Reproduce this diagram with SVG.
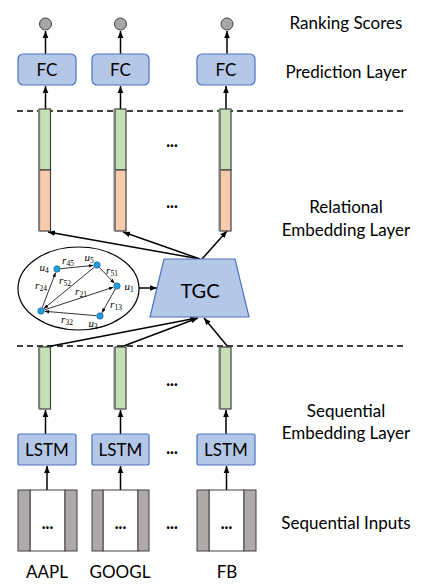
<svg xmlns="http://www.w3.org/2000/svg" width="437" height="587" viewBox="0 0 437 587">
<style>
.lbl{font-family:Lato,"Liberation Sans",sans-serif;font-size:17px;fill:#000;text-anchor:middle}
.box{fill:#B4C7E7;stroke:#4A72C4;stroke-width:1.2}
.bt{font-family:Lato,"Liberation Sans",sans-serif;font-size:17px;fill:#000;text-anchor:middle}
.dots{font-family:Lato,"Liberation Sans",sans-serif;font-size:16px;font-weight:900;fill:#000;text-anchor:middle}
.score{fill:#A6A6A6;stroke:#404040;stroke-width:1}
.grn{fill:#C5E0B4;stroke:#404040;stroke-width:1.2}
.org{fill:#F8CBAD;stroke:#404040;stroke-width:1.2}
.shd{stroke:#7F7F7F;stroke-width:2}
.ar{stroke:#000;stroke-width:1.5;fill:none;marker-end:url(#ah)}
.ge{stroke:#000;stroke-width:0.8;fill:none;marker-end:url(#sh)}
.dash{stroke:#000;stroke-width:1.3;stroke-dasharray:6,4;fill:none}
.gray{fill:#AEAAAA;stroke:#404040;stroke-width:1}
.wht{fill:#fff;stroke:#404040;stroke-width:1}
.node{fill:#1E9FE0;stroke:#1F4E79;stroke-width:0.6}
.m{font-family:"Liberation Serif",serif;font-style:italic;font-size:11px;fill:#000;text-anchor:middle}
.sub{font-size:7.5px;font-style:normal}
</style>
<defs>
<marker id="ah" viewBox="0 0 10 10" refX="10" refY="5" markerWidth="7" markerHeight="7" markerUnits="userSpaceOnUse" orient="auto"><path d="M0,1 L10,5 L0,9 z" fill="#000"/></marker>
<marker id="sh" viewBox="0 0 10 10" refX="10" refY="5" markerWidth="4.5" markerHeight="4.5" markerUnits="userSpaceOnUse" orient="auto"><path d="M0,1 L10,5 L0,9 z" fill="#000"/></marker>
</defs>
<rect width="437" height="587" fill="#fff"/>

<g id="layer-labels">
<text class="lbl" x="346" y="29">Ranking Scores</text>
<text class="lbl" x="346" y="78">Prediction Layer</text>
<text class="lbl" x="346" y="213">Relational</text>
<text class="lbl" x="346" y="236">Embedding Layer</text>
<text class="lbl" x="346" y="417">Sequential</text>
<text class="lbl" x="346" y="439">Embedding Layer</text>
<text class="lbl" x="346" y="529">Sequential Inputs</text>
</g>

<g id="separators">
<line class="dash" x1="17" y1="111" x2="405" y2="111"/>
<line class="dash" x1="17" y1="346" x2="405" y2="346"/>
</g>

<g id="connectors">
<line class="ar" x1="45.5" y1="54" x2="45.5" y2="31"/>
<line class="ar" x1="120.5" y1="54" x2="120.5" y2="31"/>
<line class="ar" x1="227" y1="54" x2="227" y2="31"/>
<line class="ar" x1="45.5" y1="109" x2="45.5" y2="86"/>
<line class="ar" x1="120.5" y1="109" x2="120.5" y2="86"/>
<line class="ar" x1="226" y1="109" x2="226" y2="86"/>
<line class="ar" x1="200" y1="259" x2="48" y2="232"/>
<line class="ar" x1="200" y1="259" x2="123" y2="232"/>
<line class="ar" x1="202" y1="259" x2="227" y2="231"/>
<line class="ar" x1="139" y1="288" x2="157" y2="288"/>
<line class="ar" x1="46" y1="347" x2="197" y2="318"/>
<line class="ar" x1="121" y1="347" x2="198" y2="318"/>
<line class="ar" x1="228" y1="347" x2="204" y2="318"/>
<line class="ar" x1="45.5" y1="434" x2="45.5" y2="410"/>
<line class="ar" x1="120.5" y1="434" x2="120.5" y2="410"/>
<line class="ar" x1="226" y1="434" x2="226" y2="410"/>
<line class="ar" x1="47" y1="490" x2="47" y2="466"/>
<line class="ar" x1="120.5" y1="490" x2="120.5" y2="466"/>
<line class="ar" x1="226.5" y1="490" x2="226.5" y2="466"/>
</g>

<g id="score-1"><circle class="score" cx="45.5" cy="24" r="6"/></g>
<g id="score-2"><circle class="score" cx="120.5" cy="24" r="6"/></g>
<g id="score-3"><circle class="score" cx="227" cy="24" r="6"/></g>

<g id="fc-1"><rect class="box" x="18" y="54" width="58" height="31" rx="5"/><text class="bt" x="47" y="76">FC</text></g>
<g id="fc-2"><rect class="box" x="92" y="54" width="57" height="31" rx="5"/><text class="bt" x="120.5" y="76">FC</text></g>
<g id="fc-3"><rect class="box" x="197" y="54" width="58" height="31" rx="5"/><text class="bt" x="226" y="76">FC</text></g>

<g id="rel-bar-1"><rect class="grn" x="39.5" y="109" width="11" height="61"/><rect class="org" x="39.5" y="170" width="11" height="61"/><line class="shd" x1="39" y1="109" x2="39" y2="231"/></g>
<g id="rel-bar-2"><rect class="grn" x="115" y="109" width="11" height="61"/><rect class="org" x="115" y="170" width="11" height="61"/><line class="shd" x1="114.5" y1="109" x2="114.5" y2="231"/></g>
<g id="rel-bar-3"><rect class="grn" x="220" y="109" width="11" height="61"/><rect class="org" x="220" y="170" width="11" height="61"/><line class="shd" x1="219.5" y1="109" x2="219.5" y2="231"/></g>
<text class="dots" x="172" y="147">...</text>
<text class="dots" x="172" y="208">...</text>

<g id="relation-graph">
<ellipse cx="78.5" cy="288.5" rx="60.5" ry="41.5" fill="#fff" stroke="#000" stroke-width="1.2"/>
<line class="ge" x1="60.5" y1="268.7" x2="93.2" y2="265.4"/>
<line class="ge" x1="99.4" y1="267.5" x2="114.4" y2="283.2"/>
<line class="ge" x1="94.3" y1="267.2" x2="43.9" y2="308.6"/>
<line class="ge" x1="44.3" y1="309.9" x2="113.4" y2="287.2"/>
<line class="ge" x1="42.2" y1="307.7" x2="55.6" y2="272.6"/>
<line class="ge" x1="115.3" y1="289" x2="101.9" y2="312.7"/>
<line class="ge" x1="96.5" y1="315.7" x2="44.8" y2="311.3"/>
<circle class="node" cx="57" cy="269" r="3.2"/>
<circle class="node" cx="97" cy="265" r="3.2"/>
<circle class="node" cx="117" cy="286" r="3.2"/>
<circle class="node" cx="100" cy="316" r="3.2"/>
<circle class="node" cx="41" cy="311" r="3.2"/>
<text class="m" x="44" y="271">u<tspan class="sub" dy="2">4</tspan></text>
<text class="m" x="89" y="261">u<tspan class="sub" dy="2">5</tspan></text>
<text class="m" x="129" y="290">u<tspan class="sub" dy="2">1</tspan></text>
<text class="m" x="93" y="327">u<tspan class="sub" dy="2">3</tspan></text>
<text class="m" x="68" y="264">r<tspan class="sub" dy="2">45</tspan></text>
<text class="m" x="112" y="274">r<tspan class="sub" dy="2">51</tspan></text>
<text class="m" x="65" y="284">r<tspan class="sub" dy="2">52</tspan></text>
<text class="m" x="81" y="295">r<tspan class="sub" dy="2">21</tspan></text>
<text class="m" x="41" y="289">r<tspan class="sub" dy="2">24</tspan></text>
<text class="m" x="116" y="308">r<tspan class="sub" dy="2">13</tspan></text>
<text class="m" x="67" y="323">r<tspan class="sub" dy="2">32</tspan></text>
</g>

<g id="tgc"><polygon class="box" points="164,259 235,259 249,317 150,317"/><text class="bt" x="200" y="298" style="font-size:20px">TGC</text></g>

<g id="seq-bar-1"><rect class="grn" x="39.5" y="347" width="11" height="62"/><line class="shd" x1="39" y1="347" x2="39" y2="409"/></g>
<g id="seq-bar-2"><rect class="grn" x="115" y="347" width="11" height="62"/><line class="shd" x1="114.5" y1="347" x2="114.5" y2="409"/></g>
<g id="seq-bar-3"><rect class="grn" x="220" y="347" width="11" height="62"/><line class="shd" x1="219.5" y1="347" x2="219.5" y2="409"/></g>
<text class="dots" x="172" y="386">...</text>

<g id="lstm-1"><rect class="box" x="18" y="434" width="58" height="31" rx="2"/><text class="bt" x="47" y="456">LSTM</text></g>
<g id="lstm-2"><rect class="box" x="92" y="434" width="57" height="31" rx="2"/><text class="bt" x="120.5" y="456">LSTM</text></g>
<g id="lstm-3"><rect class="box" x="197" y="434" width="58" height="31" rx="2"/><text class="bt" x="226" y="456">LSTM</text></g>
<text class="dots" x="172" y="454">...</text>

<g id="input-aapl">
<rect class="wht" x="30" y="490" width="35" height="61"/>
<rect class="gray" x="18" y="490" width="12" height="61"/>
<rect class="gray" x="65" y="490" width="12" height="61"/>
<text class="dots" x="47.5" y="529">...</text>
<text class="lbl" x="47" y="578">AAPL</text>
</g>
<g id="input-googl">
<rect class="wht" x="103" y="490" width="35" height="61"/>
<rect class="gray" x="92" y="490" width="11" height="61"/>
<rect class="gray" x="138" y="490" width="11" height="61"/>
<text class="dots" x="120.5" y="529">...</text>
<text class="lbl" x="120" y="578">GOOGL</text>
</g>
<g id="input-fb">
<rect class="wht" x="209" y="490" width="35" height="61"/>
<rect class="gray" x="197" y="490" width="12" height="61"/>
<rect class="gray" x="244" y="490" width="12" height="61"/>
<text class="dots" x="226.5" y="529">...</text>
<text class="lbl" x="227" y="578">FB</text>
</g>
<text class="dots" x="172" y="529">...</text>
</svg>
